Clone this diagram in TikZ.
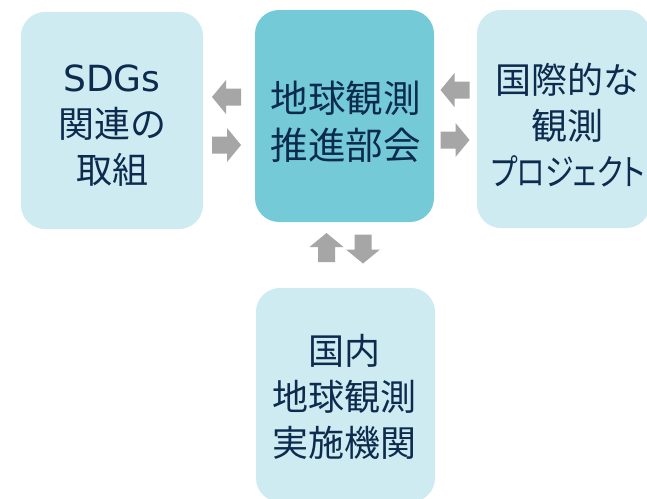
\documentclass[tikz,border=0pt]{standalone}
\usepackage{fontspec}
\newfontfamily\jpfont{Noto Sans CJK JP}
\newfontfamily\jpprop[RawFeature=+palt]{Noto Sans CJK JP}
\newfontfamily\latinfont{DejaVu Sans}
\definecolor{lightbox}{HTML}{CDEBF0}
\definecolor{midbox}{HTML}{74CBD7}
\definecolor{arrowgray}{HTML}{A6A6A6}
\definecolor{navytext}{HTML}{0C2B4E}
\newcommand\blockarrow[3]{%
  \fill[arrowgray, shift={(#1,#2)}, rotate=#3]
    (-14.5,-8.5) -- (0.5,-8.5) -- (0.5,-17) -- (14.5,0) -- (0.5,17) -- (0.5,8.5) -- (-14.5,8.5) -- cycle;}
\begin{document}
\begin{tikzpicture}[x=1pt,y=-1pt,
  panel/.style={rounded corners=24pt, inner sep=0pt, outer sep=0pt, draw=none},
  label/.style={text=navytext, align=center, inner sep=0pt, font=\jpfont\fontsize{36}{46}\selectfont}]
\clip (0,0) rectangle (647,498);
\fill[white] (0,0) rectangle (647,498);
% boxes
\node[panel, fill=lightbox, minimum width=182pt, minimum height=217pt] (boxL) at (112,120.5) {};
\node[panel, fill=midbox, minimum width=179pt, minimum height=212pt] (boxC) at (344.5,116) {};
\node[panel, fill=lightbox, minimum width=173pt, minimum height=218pt] (boxR) at (563.5,119) {};
\node[panel, fill=lightbox, minimum width=179pt, minimum height=214pt] (boxB) at (345.5,395) {};
% texts
\node[label] (txtL) at (112,126) {{\latinfont SDGs}\\関連の\\取組};
\node[label, font=\jpfont\fontsize{37.5}{47}\selectfont] (txtC) at (345.5,121.5) {地球観測\\推進部会};
\node[label] (txtR) at (567,125) {国際的な\\観測\\\hspace*{2pt}\scalebox{0.8}[1]{\jpprop プロジェクト}};
\node[label] (txtB) at (344.5,397) {国内\\地球観測\\実施機関};
% arrows
\blockarrow{226.5}{97}{180}
\blockarrow{226.5}{145}{0}
\blockarrow{455}{90}{180}
\blockarrow{455}{140}{0}
\blockarrow{326.5}{247.5}{90}
\blockarrow{363}{249}{-90}
\end{tikzpicture}
\end{document}
